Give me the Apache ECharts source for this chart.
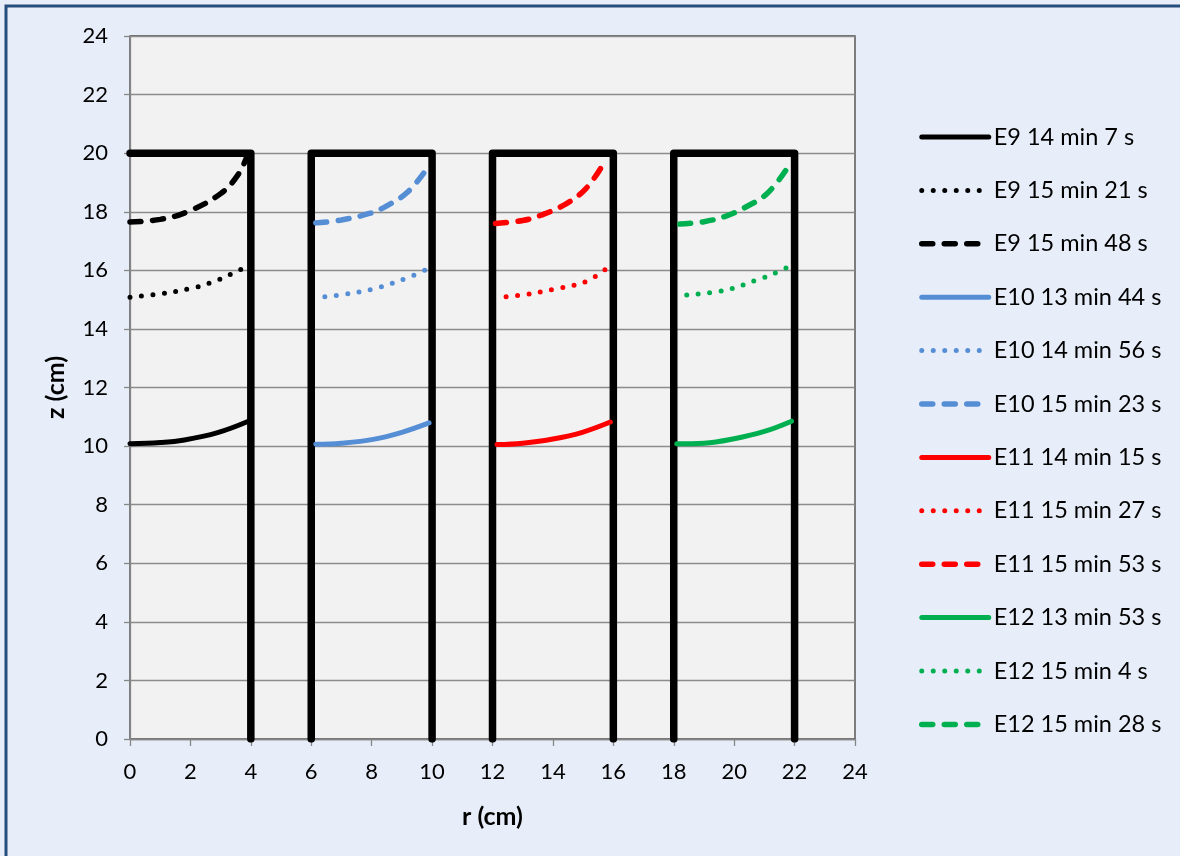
<!DOCTYPE html>
<html>
<head>
<meta charset="utf-8">
<script src="https://cdn.jsdelivr.net/npm/echarts@6/dist/echarts.min.js"></script>
<style>
html,body{margin:0;padding:0;background:#E8EEF9;}
#chart{width:1180px;height:856px;}
</style>
</head>
<body>
<div id="chart"></div>
<script>
// Axis ticks
const xTicks = [0,2,4,6,8,10,12,14,16,18,20,22,24];
const yTicks = [0,2,4,6,8,10,12,14,16,18,20,22,24];

// Container outlines [r, z]
const wallE9  = [[0,20],[4,20],[4,0]];
const wallE10 = [[6,0],[6,20],[10,20],[10,0]];
const wallE11 = [[12,0],[12,20],[16,20],[16,0]];
const wallE12 = [[18,0],[18,20],[22,20],[22,0]];

// Series names
const names = [
  'E9 14 min 7 s','E9 15 min 21 s','E9 15 min 48 s',
  'E10 13 min 44 s','E10 14 min 56 s','E10 15 min 23 s',
  'E11 14 min 15 s','E11 15 min 27 s','E11 15 min 53 s',
  'E12 13 min 53 s','E12 15 min 4 s','E12 15 min 28 s'
];

// Interface profiles [r, z]
const e9a  = [[0,10.08],[1,10.12],[1.8,10.21],[2.9,10.46],[3.9,10.84]];
const e9b  = [[0,15.08],[1,15.2],[2.05,15.39],[2.76,15.61],[3.5,15.95],[3.9,16.15]];
const e9c  = [[0,17.65],[1,17.74],[1.9,18.0],[3.0,18.62],[3.6,19.3],[3.9,19.98]];
const e10a = [[6.15,10.06],[7,10.1],[8.05,10.23],[9,10.47],[9.9,10.79]];
const e10b = [[6.45,15.1],[7,15.17],[8,15.35],[9.15,15.73],[9.9,16.08]];
const e10c = [[6.15,17.62],[7,17.72],[7.95,17.95],[8.5,18.2],[9.2,18.68],[9.85,19.5]];
const e11a = [[12.15,10.05],[13,10.1],[14,10.24],[15,10.48],[15.9,10.82]];
const e11b = [[12.45,15.1],[13,15.16],[14,15.35],[15.1,15.62],[15.85,16.13]];
const e11c = [[12.1,17.6],[13,17.7],[13.6,17.88],[14.45,18.28],[15.1,18.8],[15.65,19.6]];
const e12a = [[18.1,10.08],[19,10.1],[20,10.25],[21,10.5],[21.9,10.85]];
const e12b = [[18.43,15.16],[19.65,15.31],[20.75,15.67],[21.5,15.97],[21.85,16.15]];
const e12c = [[18.2,17.58],[19,17.66],[19.75,17.86],[20.4,18.17],[21.1,18.63],[21.8,19.55]];

const profiles = [e9a,e9b,e9c,e10a,e10b,e10c,e11a,e11b,e11c,e12a,e12b,e12c];
const colors = ['#000000','#558ED5','#FF0000','#00B050'];
const styles = ['solid','dot','dash'];

const FONT = 'Lato';
const chart = echarts.init(document.getElementById('chart'), null, {renderer:'canvas'});

function lineStyleFor(i){
  const c = colors[Math.floor(i/3)];
  const st = styles[i%3];
  if (st==='solid') return {color:c, width:5, type:'solid', cap:'round'};
  if (st==='dot') return {color:c, width:5, type:[0,11.5], cap:'round'};
  return {color:c, width:5.5, type:[11,11.5], cap:'round'};
}

const series = [];
[wallE9, wallE10, wallE11, wallE12].forEach((w,i)=>{
  series.push({
    name: 'wall'+i, type:'line', data:w, symbol:'none', silent:true,
    lineStyle:{color:'#000', width:7.5, cap:'round', join:'round'}, z:3
  });
});
profiles.forEach((p,i)=>{
  const c = colors[Math.floor(i/3)];
  series.push({
    name:names[i], type:'line', data:p, symbol:'none', smooth:0.4,
    lineStyle:lineStyleFor(i), itemStyle:{color:c}, z:4
  });
});

const legendData = names.map((n,i)=>{
  const ls = lineStyleFor(i);
  return {name:n, itemStyle:{opacity:0}, lineStyle:Object.assign({}, ls, {opacity:1})};
});

chart.setOption({
  backgroundColor:'#E8EEF9',
  animation:false,
  graphic:[{
    type:'rect', shape:{x:6, y:6, width:1300, height:1000},
    style:{fill:'none', stroke:'#254E7D', lineWidth:3}, z:100, silent:true
  }],
  grid:{left:130, right:325, top:36, bottom:117, show:true,
        backgroundColor:'#F2F2F2', borderColor:'#404040', borderWidth:1.3},
  legend:{
    data:legendData, orient:'vertical', left:914, top:120,
    itemWidth:67, itemHeight:14, itemGap:29.4,
    textStyle:{fontFamily:FONT, fontSize:23.5, color:'#000', padding:[0,0,0,0]}
  },
  xAxis:{
    type:'value', min:0, max:24, interval:2,
    name:'r (cm)', nameLocation:'middle', nameGap:65,
    nameTextStyle:{fontFamily:FONT, fontSize:25, fontWeight:'bold', color:'#000'},
    axisLine:{show:true, onZero:false, lineStyle:{color:'#868686', width:1.3}},
    axisTick:{show:true, length:7, lineStyle:{color:'#868686', width:1.3}},
    axisLabel:{fontFamily:FONT, fontSize:22, color:'#000', margin:22,
      formatter:v=>xTicks.includes(v)?String(v):''},
    splitLine:{show:false}
  },
  yAxis:{
    type:'value', min:0, max:24, interval:2,
    name:'z (cm)', nameLocation:'middle', nameGap:62,
    nameTextStyle:{fontFamily:FONT, fontSize:25, fontWeight:'bold', color:'#000'},
    axisLine:{show:true, onZero:false, lineStyle:{color:'#868686', width:1.3}},
    axisTick:{show:true, length:6, lineStyle:{color:'#868686', width:1.3}},
    axisLabel:{fontFamily:FONT, fontSize:22, color:'#000', margin:22,
      formatter:v=>yTicks.includes(v)?String(v):''},
    splitLine:{show:true, lineStyle:{color:'#8C8C8C', width:1.3}}
  },
  series:series
});
</script>
</body>
</html>
